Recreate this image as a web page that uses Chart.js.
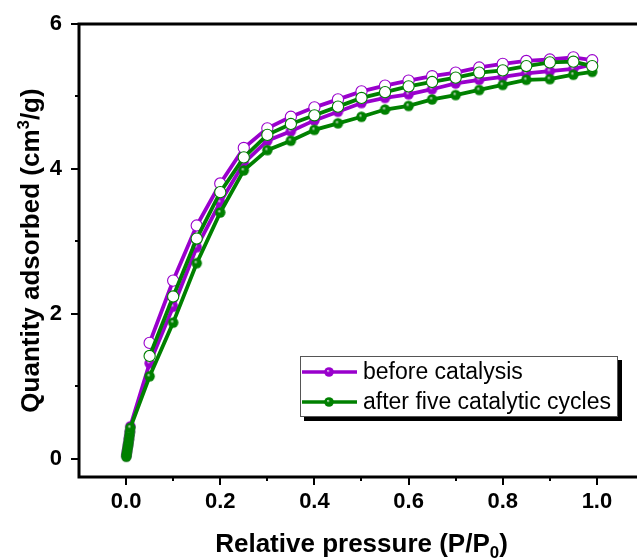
<!DOCTYPE html>
<html>
<head>
<meta charset="utf-8">
<script src="https://cdn.jsdelivr.net/npm/chart.js@4.4.1/dist/chart.umd.min.js"></script>
<style>
  html, body { margin: 0; padding: 0; background: #fff; overflow: hidden; }
  #wrap { width: 637px; height: 559px; overflow: hidden; }
</style>
</head>
<body>
<div id="wrap"><canvas id="iso" width="660" height="559"></canvas></div>
<script>
// N2 isotherm: adsorption (filled) and desorption (open) branches

// low-pressure adsorption points
const lowP = [0.0005, 0.001, 0.002, 0.003, 0.004, 0.005, 0.006, 0.007, 0.008, 0.009];
// main adsorption points
const adsP = [0.05, 0.10, 0.15, 0.20, 0.25, 0.30, 0.35, 0.40, 0.45, 0.50, 0.55, 0.60, 0.65, 0.70, 0.75, 0.80, 0.85, 0.90, 0.95, 0.99];
// desorption points, high to low pressure
const desP = [0.99, 0.95, 0.90, 0.85, 0.80, 0.75, 0.70, 0.65, 0.60, 0.55, 0.50, 0.45, 0.40, 0.35, 0.30, 0.25, 0.20, 0.15, 0.10, 0.05];

// before catalysis
const beforeLow = [0.04, 0.07, 0.11, 0.15, 0.19, 0.23, 0.28, 0.33, 0.38, 0.45];
const beforeAds = [1.32, 2.10, 2.92, 3.54, 4.08, 4.39, 4.52, 4.67, 4.79, 4.91, 4.98, 5.03, 5.10, 5.18, 5.23, 5.27, 5.32, 5.35, 5.38, 5.44];
const beforeDes = [5.50, 5.54, 5.51, 5.49, 5.45, 5.40, 5.33, 5.28, 5.22, 5.15, 5.07, 4.96, 4.85, 4.72, 4.56, 4.29, 3.80, 3.22, 2.46, 1.60];

// after five catalytic cycles
const afterLow = [0.03, 0.06, 0.10, 0.14, 0.18, 0.22, 0.27, 0.32, 0.37, 0.43];
const afterAds = [1.14, 1.88, 2.70, 3.40, 3.98, 4.26, 4.39, 4.54, 4.63, 4.72, 4.82, 4.87, 4.96, 5.02, 5.09, 5.16, 5.23, 5.24, 5.30, 5.34];
const afterDes = [5.42, 5.48, 5.47, 5.42, 5.36, 5.33, 5.26, 5.20, 5.14, 5.06, 4.98, 4.86, 4.74, 4.62, 4.47, 4.16, 3.68, 3.04, 2.24, 1.42];

const xTicks = [0, 0.1, 0.2, 0.3, 0.4, 0.5, 0.6, 0.7, 0.8, 0.9, 1.0];
const yTicks = [0, 1, 2, 3, 4, 5, 6];

const legendLabels = ['before catalysis', 'after five catalytic cycles'];

const PURPLE = '#9900CC';
const GREEN = '#008000';
const FONT = '"Liberation Sans", Arial, sans-serif';

// shaded ball marker for the filled points
function ball(color, r) {
  const c = document.createElement('canvas');
  const s = Math.ceil(r * 2 + 2);
  c.width = s; c.height = s;
  const g = c.getContext('2d');
  const m = s / 2;
  const grad = g.createRadialGradient(m - r * 0.25, m - r * 0.3, 0, m, m, r);
  grad.addColorStop(0, 'rgba(235,235,235,1)');
  grad.addColorStop(0.35, color);
  grad.addColorStop(1, color);
  g.fillStyle = grad;
  g.beginPath();
  g.arc(m, m, r, 0, Math.PI * 2);
  g.fill();
  return c;
}

function branchData(low, ads, des) {
  const pts = [];
  lowP.forEach((p, i) => pts.push({ x: p, y: low[i] }));
  adsP.forEach((p, i) => pts.push({ x: p, y: ads[i] }));
  desP.forEach((p, i) => pts.push({ x: p, y: des[i] }));
  return pts;
}

const nAds = lowP.length + adsP.length;

function makeSet(label, color, low, ads, des, order) {
  const img = ball(color, 5.2);
  return {
    label: label,
    data: branchData(low, ads, des),
    borderColor: color,
    borderWidth: 3.8,
    order: order,
    pointStyle: c => c.dataIndex < nAds ? img : 'circle',
    pointRadius: c => c.dataIndex < nAds ? 5.2 : 5.6,
    pointBackgroundColor: c => c.dataIndex < nAds ? color : '#ffffff',
    pointBorderColor: color,
    pointBorderWidth: 1.1,
    tension: 0
  };
}

function drawRich(ctx, parts, x, y, size) {
  // parts: [text, shift] where shift 1 = superscript, -1 = subscript
  let w = 0;
  parts.forEach(p => {
    ctx.font = 'bold ' + (p[1] ? size * 0.65 : size) + 'px ' + FONT;
    w += ctx.measureText(p[0]).width;
  });
  let cx = x - w / 2;
  parts.forEach(p => {
    const fs = p[1] ? size * 0.65 : size;
    ctx.font = 'bold ' + fs + 'px ' + FONT;
    const dy = p[1] === 1 ? -size * 0.38 : p[1] === -1 ? size * 0.22 : 0;
    ctx.fillText(p[0], cx, y + dy);
    cx += ctx.measureText(p[0]).width;
  });
}

const framePlugin = {
  id: 'frame',
  afterDraw(chart) {
    const ctx = chart.ctx;
    const a = chart.chartArea;
    const xs = chart.scales.x, ys = chart.scales.y;
    ctx.save();
    ctx.strokeStyle = '#000';
    ctx.lineWidth = 3;
    ctx.lineCap = 'square';
    ctx.strokeRect(a.left, a.top, a.right - a.left, a.bottom - a.top);

    ctx.lineWidth = 2;
    ctx.lineCap = 'butt';
    xTicks.forEach((v, i) => {
      const px = Math.round(xs.getPixelForValue(v));
      const len = i % 2 === 0 ? 8 : 4;
      ctx.beginPath();
      ctx.moveTo(px, a.bottom);
      ctx.lineTo(px, a.bottom + len);
      ctx.stroke();
    });
    yTicks.forEach((v, i) => {
      const py = Math.round(ys.getPixelForValue(v));
      const len = i % 2 === 0 ? 8 : 4;
      ctx.beginPath();
      ctx.moveTo(a.left, py);
      ctx.lineTo(a.left - len, py);
      ctx.stroke();
    });

    // axis titles
    ctx.fillStyle = '#000';
    ctx.textBaseline = 'alphabetic';
    ctx.textAlign = 'left';
    drawRich(ctx, [['Relative pressure (P/P', 0], ['0', -1], [')', 0]], (a.left + a.right) / 2, 552, 26);
    ctx.save();
    ctx.translate(39, (a.top + a.bottom) / 2);
    ctx.rotate(-Math.PI / 2);
    drawRich(ctx, [['Quantity adsorbed (cm', 0], ['3', 1], ['/g)', 0]], 0, 0, 26);
    ctx.restore();

    // legend box with drop shadow
    const lx = 300, ly = 356, lw = 318, lh = 61;
    ctx.fillStyle = '#000';
    ctx.fillRect(lx + 4, ly + 4, lw, lh);
    ctx.fillStyle = '#fff';
    ctx.fillRect(lx, ly, lw, lh);
    ctx.strokeStyle = '#555';
    ctx.lineWidth = 1;
    ctx.strokeRect(lx + 0.5, ly + 0.5, lw - 1, lh - 1);
    const sets = chart.data.datasets;
    [0, 1].forEach(i => {
      const ds = sets.find(d => d.label === legendLabels[i]);
      const ry = ly + 16 + i * 30;
      ctx.strokeStyle = ds.borderColor;
      ctx.lineWidth = 3.5;
      ctx.beginPath();
      ctx.moveTo(lx + 2, ry);
      ctx.lineTo(lx + 57, ry);
      ctx.stroke();
      const img = ball(ds.borderColor, 4.8);
      ctx.drawImage(img, lx + 29 - img.width / 2, ry - img.height / 2);
      ctx.fillStyle = '#000';
      ctx.font = '23px ' + FONT;
      ctx.textBaseline = 'middle';
      ctx.fillText(legendLabels[i], lx + 63, ry + 1);
    });
    ctx.restore();
  }
};

new Chart(document.getElementById('iso'), {
  type: 'line',
  data: {
    datasets: [
      makeSet(legendLabels[0], PURPLE, beforeLow, beforeAds, beforeDes, 1),
      makeSet(legendLabels[1], GREEN, afterLow, afterAds, afterDes, 0)
    ]
  },
  options: {
    responsive: false,
    animation: false,
    devicePixelRatio: 1,
    layout: { padding: { left: 0, top: 24, right: 16, bottom: 0 } },
    plugins: { legend: { display: false }, tooltip: { enabled: false } },
    scales: {
      x: {
        type: 'linear',
        min: -0.1,
        max: 1.1,
        afterBuildTicks: s => { s.ticks = xTicks.map(v => ({ value: v })); },
        afterFit: s => { s.height = 82; },
        grid: { display: false },
        border: { display: false },
        ticks: {
          padding: 4,
          color: '#000',
          font: { family: FONT, size: 22, weight: 'bold' },
          maxRotation: 0,
          callback: (v, i) => i % 2 === 0 ? v.toFixed(1) : ''
        }
      },
      y: {
        type: 'linear',
        min: -0.25,
        max: 6,
        afterBuildTicks: s => { s.ticks = yTicks.map(v => ({ value: v })); },
        afterFit: s => { s.width = 79; },
        grid: { display: false },
        border: { display: false },
        ticks: {
          padding: 9,
          color: '#000',
          font: { family: FONT, size: 22, weight: 'bold' },
          callback: (v, i) => i % 2 === 0 ? String(v) : ''
        }
      }
    }
  },
  plugins: [framePlugin]
});
</script>
</body>
</html>
